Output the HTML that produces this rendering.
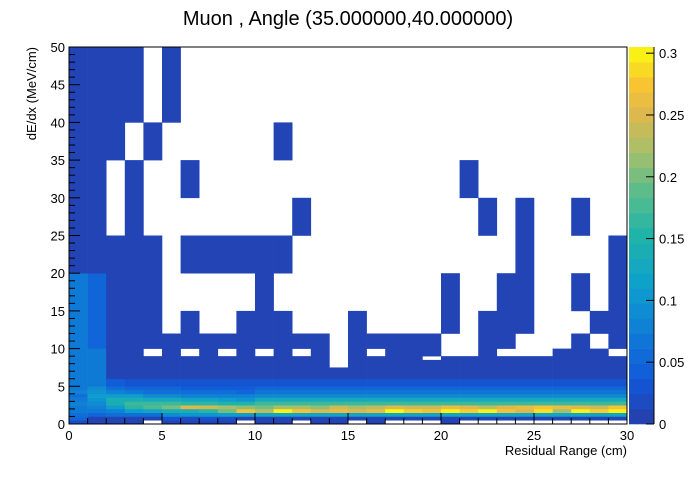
<!DOCTYPE html>
<html><head><meta charset="utf-8"><style>
body{margin:0;background:#fff;width:696px;height:472px;overflow:hidden;font-family:"Liberation Sans",sans-serif}
</style></head><body>
<svg id="c" width="696" height="472" xmlns="http://www.w3.org/2000/svg">
<text x="348" y="25" text-anchor="middle" font-size="20" font-family="Liberation Sans">Muon , Angle (35.000000,40.000000)</text>
<text x="627" y="455" text-anchor="end" font-size="13" font-family="Liberation Sans">Residual Range (cm)</text>
<text transform="translate(36,47) rotate(-90)" text-anchor="end" font-size="13" font-family="Liberation Sans">dE/dx (MeV/cm)</text>
<g id="cells"></g>
<g id="axes"></g>
<g id="cbar"></g>
</svg>
<script>
const xTicks=[0,5,10,15,20,25,30];
const yTicks=[0,5,10,15,20,25,30,35,40,45,50];
const zTicks=[0,0.05,0.1,0.15,0.2,0.25,0.3];
const zTickLabels=["0","0.05","0.1","0.15","0.2","0.25","0.3"];
// low region values: rows of 0.5 units from 0 to 5, one array per column (30 columns of 1 cm)
const lowValues=[
[0.02,0.05,0.06,0.07,0.07,0.08,0.07,0.06,0.08,0.07],
[0.01,0.01,0.05,0.07,0.08,0.09,0.10,0.11,0.10,0.09],
[0.01,0.01,0.06,0.08,0.11,0.14,0.14,0.11,0.08,0.06],
[0.01,0.01,0.06,0.11,0.16,0.17,0.14,0.11,0.07,0.05],
[0,0.01,0.06,0.12,0.18,0.17,0.13,0.09,0.06,0.05],
[0.01,0.03,0.09,0.14,0.20,0.17,0.13,0.09,0.06,0.05],
[0.01,0.02,0.10,0.14,0.25,0.16,0.12,0.08,0.06,0.04],
[0.01,0.03,0.10,0.16,0.24,0.16,0.12,0.08,0.06,0.04],
[0.01,0.02,0.11,0.20,0.22,0.15,0.11,0.08,0.06,0.04],
[0,0.01,0.11,0.27,0.21,0.15,0.10,0.08,0.05,0.04],
[0.01,0.01,0.12,0.23,0.20,0.17,0.13,0.09,0.065,0.05],
[0.01,0.01,0.12,0.30,0.22,0.17,0.13,0.09,0.065,0.05],
[0,0.01,0.12,0.27,0.22,0.17,0.13,0.09,0.065,0.05],
[0.01,0.01,0.12,0.25,0.21,0.17,0.13,0.09,0.065,0.05],
[0.01,0.01,0.12,0.26,0.24,0.17,0.13,0.09,0.065,0.05],
[0,0.01,0.12,0.25,0.22,0.17,0.13,0.09,0.065,0.05],
[0.01,0.01,0.12,0.26,0.23,0.17,0.13,0.09,0.065,0.05],
[0,0.01,0.12,0.31,0.25,0.17,0.13,0.09,0.065,0.05],
[0,0.01,0.12,0.28,0.24,0.17,0.13,0.09,0.065,0.05],
[0,0.01,0.12,0.27,0.24,0.17,0.13,0.09,0.065,0.05],
[0.01,0.01,0.12,0.30,0.26,0.17,0.13,0.09,0.065,0.05],
[0,0.01,0.12,0.28,0.25,0.17,0.13,0.09,0.065,0.05],
[0,0.01,0.12,0.30,0.23,0.17,0.13,0.09,0.065,0.05],
[0,0.01,0.12,0.27,0.25,0.17,0.13,0.09,0.065,0.05],
[0,0.01,0.12,0.25,0.26,0.17,0.13,0.09,0.065,0.05],
[0,0.01,0.12,0.29,0.27,0.17,0.13,0.09,0.065,0.05],
[0,0.01,0.12,0.22,0.26,0.17,0.13,0.09,0.065,0.05],
[0,0.01,0.12,0.30,0.25,0.17,0.13,0.09,0.065,0.05],
[0,0.01,0.12,0.28,0.24,0.17,0.13,0.09,0.065,0.05],
[0,0.01,0.12,0.30,0.27,0.17,0.13,0.09,0.065,0.05]
];
// upper region filled intervals per column: [y0, y1, value]
const upperBlocks=[
[[5,20,0.07],[20,50,0.01]],
[[5,10,0.07],[10,20,0.05],[20,50,0.01]],
[[5,6,0.04],[6,25,0.01],[35,50,0.01]],
[[5,6,0.03],[6,35,0.01],[40,50,0.01]],
[[5,6,0.03],[6,9,0.01],[10,25,0.01],[35,40,0.01]],
[[5,6,0.03],[6,12,0.01],[40,50,0.01]],
[[5,6,0.03],[6,9,0.01],[10,15,0.01],[20,25,0.01],[30,35,0.01]],
[[5,6,0.03],[6,12,0.01],[20,25,0.01]],
[[5,6,0.03],[6,9,0.01],[10,12,0.01],[20,25,0.01]],
[[5,6,0.03],[6,15,0.01],[20,25,0.01]],
[[5,6,0.03],[6,9,0.01],[10,25,0.01]],
[[5,6,0.03],[6,15,0.01],[20,25,0.01],[35,40,0.01]],
[[5,6,0.03],[6,9,0.01],[10,12,0.01],[25,30,0.01]],
[[5,6,0.03],[6,12,0.01]],
[[5,6,0.03],[6,7.5,0.01]],
[[5,6,0.03],[6,15,0.01]],
[[5,6,0.03],[6,9,0.01],[10,12,0.01]],
[[5,6,0.03],[6,12,0.01]],
[[5,6,0.03],[6,12,0.01]],
[[5,6,0.03],[6,8.5,0.01],[9,12,0.01]],
[[5,6,0.03],[6,9,0.01],[12,20,0.01]],
[[5,6,0.03],[6,9,0.01],[30,35,0.01]],
[[5,6,0.03],[6,15,0.01],[25,30,0.01]],
[[5,6,0.03],[6,9,0.01],[10,20,0.01]],
[[5,6,0.03],[6,9,0.01],[12,30,0.01]],
[[5,6,0.03],[6,9,0.01]],
[[5,6,0.03],[6,10,0.01]],
[[5,6,0.03],[6,12,0.01],[15,20,0.01],[25,30,0.01]],
[[5,6,0.03],[6,10,0.01],[12,15,0.01]],
[[5,6,0.03],[6,9,0.01],[10,25,0.01]]
];
const X0=69,X1=627,Y0=424,Y1=47,ZMAX=0.305;
const xs=u=>X0+u*(X1-X0)/30;
const ys=v=>Y0-v*(Y0-Y1)/50;
const zs=z=>Y0-z*(Y0-Y1)/ZMAX;
const stops=[[0,[40,60,168]],[0.12,[17,89,217]],[0.25,[15,127,214]],[0.37,[14,160,204]],[0.5,[32,180,168]],[0.62,[92,189,138]],[0.72,[165,191,108]],[0.82,[220,184,78]],[0.9,[248,196,50]],[1,[249,251,14]]];
function col(v){let t=Math.max(0,Math.min(1,v/ZMAX));for(let i=1;i<stops.length;i++){if(t<=stops[i][0]){const a=stops[i-1],b=stops[i],f=(t-a[0])/(b[0]-a[0]);const c=a[1].map((x,k)=>Math.round(x+(b[1][k]-x)*f));return`rgb(${c})`;}}return'rgb(249,251,14)';}
const NS="http://www.w3.org/2000/svg";
function mk(tag,attrs,parent){const e=document.createElementNS(NS,tag);for(const k in attrs)e.setAttribute(k,attrs[k]);parent.appendChild(e);return e;}
const cells=document.getElementById('cells');
function cell(x0,x1,y0,y1,v){const r=mk('rect',{x:xs(x0).toFixed(2),y:ys(y1).toFixed(2),width:(xs(x1)-xs(x0)+0.3).toFixed(2),height:(ys(y0)-ys(y1)+0.3).toFixed(2),fill:col(v)},cells);

}
lowValues.forEach((arr,ci)=>{arr.forEach((v,ri)=>{if(v>0)cell(ci,ci+1,ri*0.5,ri*0.5+0.5,v);});});
upperBlocks.forEach((blks,ci)=>{blks.forEach(b=>cell(ci,ci+1,b[0],b[1],b[2]));});
const ax=document.getElementById('axes');
mk('rect',{x:X0,y:Y1,width:X1-X0,height:Y0-Y1,fill:'none',stroke:'#000','stroke-width':1},ax);
for(let u=0;u<=30;u++){const L=u%5===0?11:6;mk('line',{x1:xs(u),x2:xs(u),y1:Y0,y2:Y0-L,stroke:'#000'},ax);}
xTicks.forEach(t=>{const e=mk('text',{x:xs(t),y:Y0+16,'text-anchor':'middle','font-size':13},ax);e.textContent=t;

});
for(let v=0;v<=50;v++){const L=v%5===0?11:6;mk('line',{x1:X0,x2:X0+L,y1:ys(v),y2:ys(v),stroke:'#000'},ax);}
yTicks.forEach(t=>{const e=mk('text',{x:X0-4,y:ys(t)+5,'text-anchor':'end','font-size':13},ax);e.textContent=t;

});
const cb=document.getElementById('cbar');
const N=25;for(let i=0;i<N;i++){const z0=ZMAX*i/N,z1=ZMAX*(i+1)/N;mk('rect',{x:629,y:zs(z1),width:25,height:zs(z0)-zs(z1)+0.3,fill:col((z0+z1)/2)},cb);}
mk('line',{x1:654,x2:654,y1:Y1,y2:Y0,stroke:'#000'},cb);
zTicks.forEach((t,i)=>{mk('line',{x1:654,x2:646,y1:zs(t),y2:zs(t),stroke:'#000'},cb);const e=mk('text',{x:659,y:zs(t)+5,'font-size':13},cb);e.textContent=zTickLabels[i];

});
</script>
</body></html>
